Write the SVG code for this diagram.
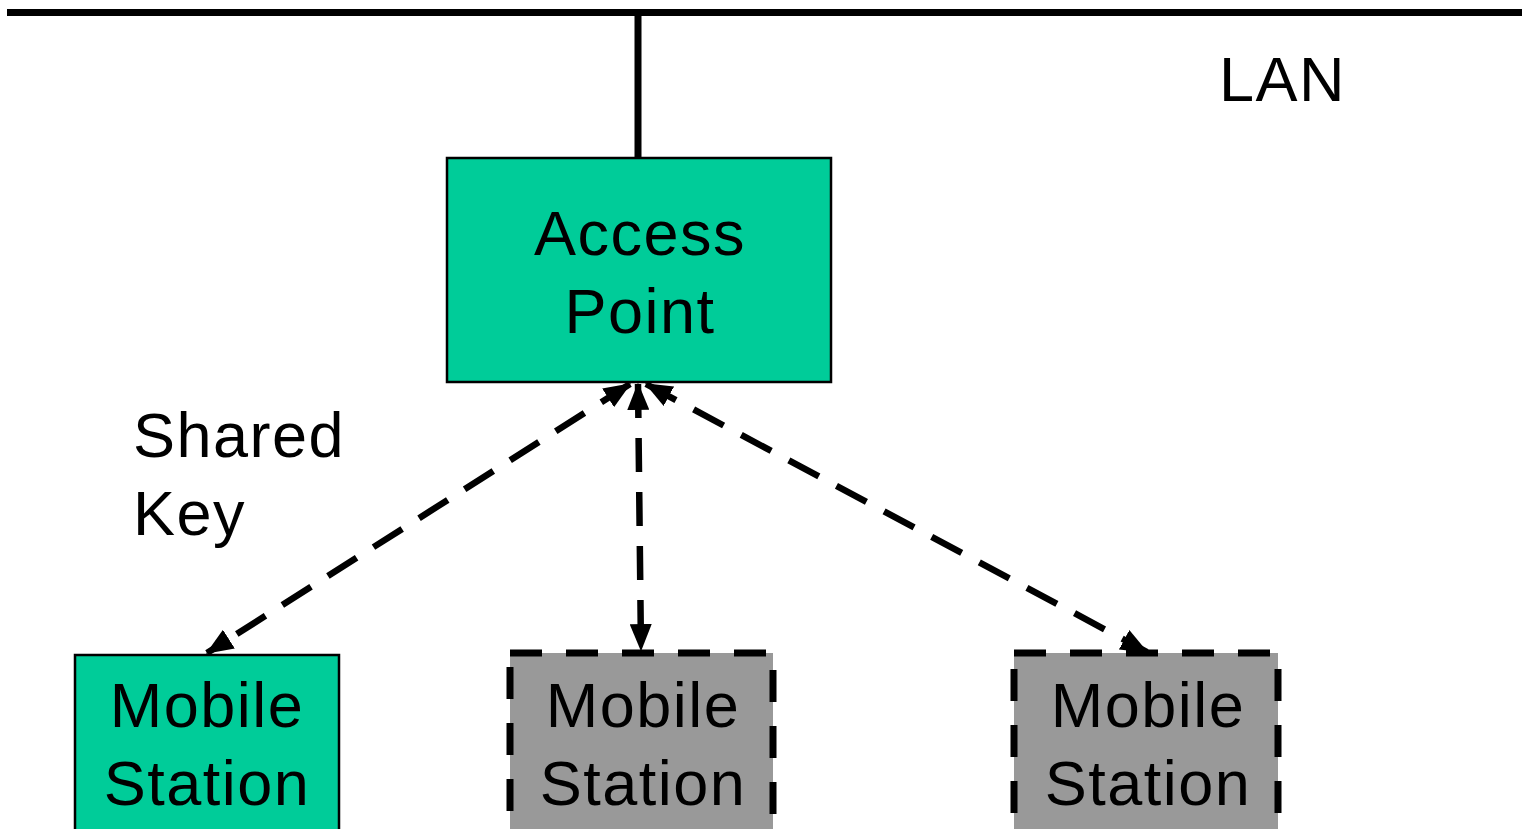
<svg xmlns="http://www.w3.org/2000/svg" width="1527" height="829" viewBox="0 0 1527 829">
  <style>
    .lbl { font-family: "Liberation Sans", "DejaVu Sans", sans-serif; font-size: 63px; letter-spacing: 1.5px; fill: #000; }
    .mid { text-anchor: middle; }
    .ap { fill: #00cc99; stroke: #000; stroke-width: 2.5; }
    .ms { fill: #00cc99; stroke: #000; stroke-width: 2.5; }
    .ms-off { fill: #999999; stroke: #000; stroke-width: 7; stroke-dasharray: 32 24; }
    .wire { stroke: #000; stroke-width: 7; fill: none; }
    .link { stroke: #000; stroke-width: 6.5; fill: none; stroke-dasharray: 34 20; marker-start: url(#head); marker-end: url(#head); }
  </style>
  <defs>
    <marker id="head" viewBox="0 0 10 10" refX="9.5" refY="5" markerWidth="4.2" markerHeight="3.4" orient="auto-start-reverse" markerUnits="strokeWidth" preserveAspectRatio="none">
      <path d="M0,0 L10,5 L0,10 Z" fill="#000"/>
    </marker>
  </defs>

  <rect width="1527" height="829" fill="#fff"/>

  <!-- LAN backbone -->
  <g id="lan">
    <line class="wire" x1="7" y1="12.5" x2="1522" y2="12.5"/>
    <text class="lbl" x="1219" y="101">LAN</text>
  </g>

  <!-- wireless links -->
  <g id="connectors">
    <line class="wire" x1="638" y1="12" x2="638" y2="159" stroke-width="6"/>
    <line class="link" x1="630" y1="384" x2="207" y2="653"/>
    <line class="link" x1="638" y1="384" x2="641" y2="650"/>
    <line class="link" x1="646" y1="384" x2="1147" y2="652"/>
  </g>

  <g id="access-point">
    <rect class="ap" x="447" y="158" width="384" height="224"/>
    <text class="lbl mid" x="640" y="255">Access</text>
    <text class="lbl mid" x="640" y="333">Point</text>
  </g>

  <g id="shared-key">
    <text class="lbl" x="133" y="457">Shared</text>
    <text class="lbl" x="133" y="535">Key</text>
  </g>

  <g id="station-1">
    <rect class="ms" x="75" y="655" width="264" height="180"/>
    <text class="lbl mid" x="207" y="727">Mobile</text>
    <text class="lbl mid" x="207" y="805">Station</text>
  </g>

  <g id="station-2">
    <rect class="ms-off" x="510" y="653" width="263" height="180"/>
    <text class="lbl mid" x="643" y="727">Mobile</text>
    <text class="lbl mid" x="643" y="805">Station</text>
  </g>

  <g id="station-3">
    <rect class="ms-off" x="1014" y="653" width="264" height="180"/>
    <text class="lbl mid" x="1148" y="727">Mobile</text>
    <text class="lbl mid" x="1148" y="805">Station</text>
  </g>
</svg>
